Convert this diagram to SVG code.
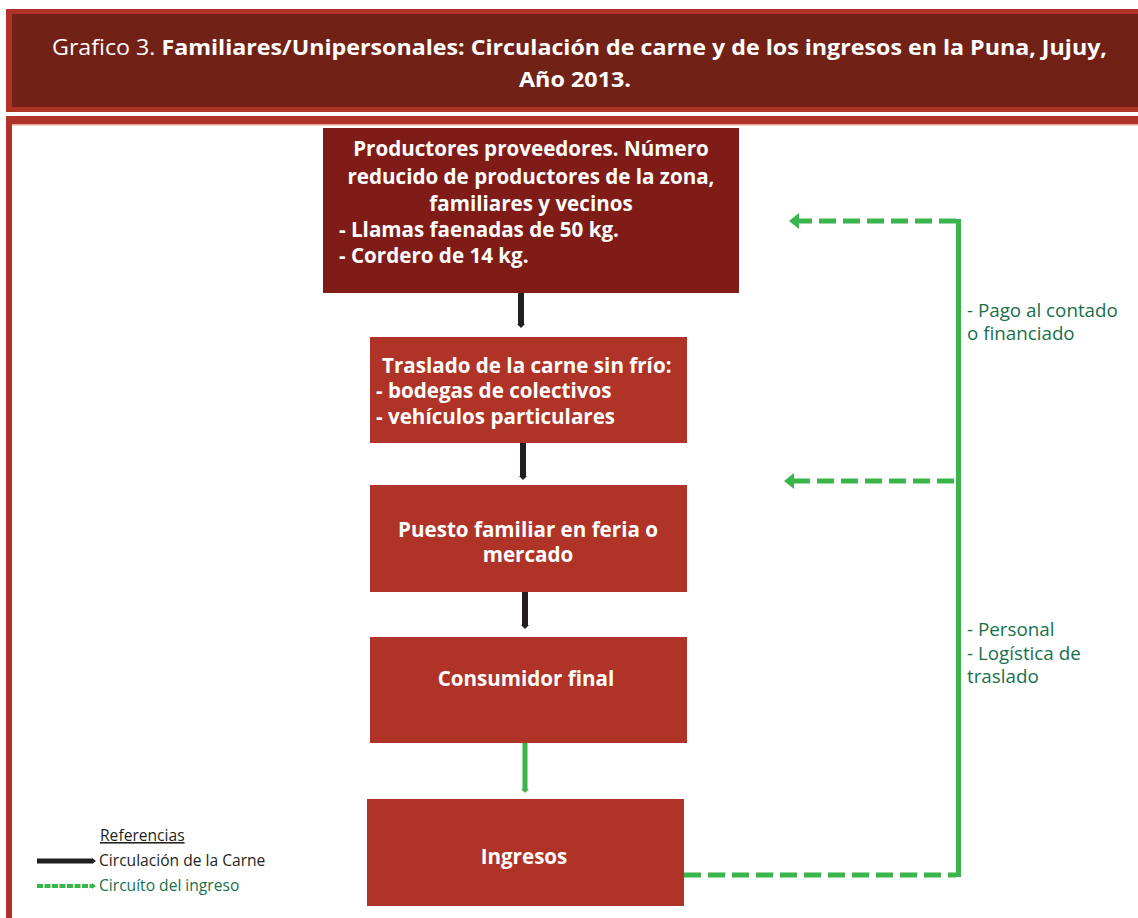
<svg xmlns="http://www.w3.org/2000/svg" width="1138" height="918" viewBox="0 0 1138 918">
<defs>
<style>
.title{font-family:"Open Sans","Liberation Sans",sans-serif;font-size:22px;fill:#fff}
.bt{font-family:"Open Sans","Liberation Sans",sans-serif;font-weight:bold;font-size:20.6px;fill:#fff}
.lbl{font-family:"Open Sans","Liberation Sans",sans-serif;font-size:18.8px;fill:#17704a}
.leg{font-family:"Open Sans","Liberation Sans",sans-serif;font-size:15.6px}
.dark{fill:#7f1c18}
.red{fill:#b03327}
.meat{stroke:#231f20;stroke-width:6;fill:none}
.inc{stroke:#39b54a;stroke-width:5;fill:none}
.dash{stroke-dasharray:17 7}
</style>
<marker id="ah" viewBox="0 0 10 16" refX="1" refY="8" markerWidth="10" markerHeight="16" markerUnits="userSpaceOnUse" orient="auto">
<path d="M0,0 L10,8 L0,16 Z" fill="#39b54a"/>
</marker>
</defs>
<rect width="1138" height="918" fill="#fff"/>
<g id="title">
<rect x="6" y="9" width="1132" height="103" fill="#b03327"/>
<rect x="12" y="14" width="1126" height="93" fill="#722117"/>
<text class="title" x="52" y="55" textLength="1055" lengthAdjust="spacingAndGlyphs">Grafico 3. <tspan font-weight="bold">Familiares/Unipersonales: Circulación de carne y de los ingresos en la Puna, Jujuy,</tspan></text>
<text class="title" x="575" y="87" text-anchor="middle" font-weight="bold" textLength="112" lengthAdjust="spacingAndGlyphs">Año 2013.</text>
</g>
<g id="frame">
<rect x="6" y="116" width="1132" height="8" fill="#b03327"/>
<rect x="6" y="124" width="1132" height="1.5" fill="#e8a49c"/>
<rect x="6" y="116" width="6" height="802" fill="#b03327"/>
</g>
<g id="connectors">
<path class="meat" d="M521,293 V324"/>
<path d="M517,324 L521,328 L525,324 Z" fill="#231f20"/>
<path class="meat" d="M523,443 V476"/>
<path d="M519,476 L523,480 L527,476 Z" fill="#231f20"/>
<path class="meat" d="M525,592 V625"/>
<path d="M521,625 L525,629 L529,625 Z" fill="#231f20"/>
<path class="inc" d="M525,743 V789"/>
<path d="M521,789 L525,793 L529,789 Z" fill="#39b54a"/>
<path class="inc dash" d="M684,875 H956"/>
<path class="inc" d="M958.5,877 V219"/>
<path class="inc dash" d="M956,221 H798" marker-end="url(#ah)"/>
<path class="inc dash" d="M954,481 H793" marker-end="url(#ah)"/>
</g>
<g id="n1">
<rect class="dark" x="323" y="128" width="416" height="165"/>
<text class="bt" x="531" y="156" text-anchor="middle">Productores proveedores. Número</text>
<text class="bt" x="531" y="184" text-anchor="middle">reducido de productores de la zona,</text>
<text class="bt" x="531" y="211" text-anchor="middle">familiares y vecinos</text>
<text class="bt" x="339" y="237" font-size="18">- Llamas faenadas de 50 kg.</text>
<text class="bt" x="339" y="263" font-size="18">- Cordero de 14 kg.</text>
</g>
<g id="n2">
<rect class="red" x="370" y="337" width="317" height="106"/>
<text class="bt" x="382" y="373">Traslado de la carne sin frío:</text>
<text class="bt" x="376" y="398">- bodegas de colectivos</text>
<text class="bt" x="376" y="424">- vehículos particulares</text>
</g>
<g id="n3">
<rect class="red" x="370" y="485" width="317" height="107"/>
<text class="bt" x="528" y="537" text-anchor="middle">Puesto familiar en feria o</text>
<text class="bt" x="528" y="562" text-anchor="middle">mercado</text>
</g>
<g id="n4">
<rect class="red" x="370" y="637" width="317" height="106"/>
<text class="bt" x="526" y="686" text-anchor="middle">Consumidor final</text>
</g>
<g id="n5">
<rect class="red" x="367" y="799" width="317" height="107"/>
<text class="bt" x="524" y="864" text-anchor="middle">Ingresos</text>
</g>
<g id="labels">
<text class="lbl" x="967" y="317">- Pago al contado</text>
<text class="lbl" x="967" y="340">o financiado</text>
<text class="lbl" x="967" y="636">- Personal</text>
<text class="lbl" x="967" y="660">- Logística de</text>
<text class="lbl" x="967" y="683">traslado</text>
</g>
<g id="legend">
<text class="leg" x="100" y="841" fill="#231f20" text-decoration="underline">Referencias</text>
<path d="M37,861 H92" stroke="#231f20" stroke-width="5"/>
<path d="M92,858 L96,861 L92,864 Z" fill="#231f20"/>
<text class="leg" x="99" y="866" fill="#231f20">Circulación de la Carne</text>
<path d="M37,886 H92" stroke="#39b54a" stroke-width="4" stroke-dasharray="6 1.5"/>
<path d="M92,883 L96,886 L92,889 Z" fill="#39b54a"/>
<text class="leg" x="99" y="891" fill="#17704a">Circuíto del ingreso</text>
</g>
</svg>
